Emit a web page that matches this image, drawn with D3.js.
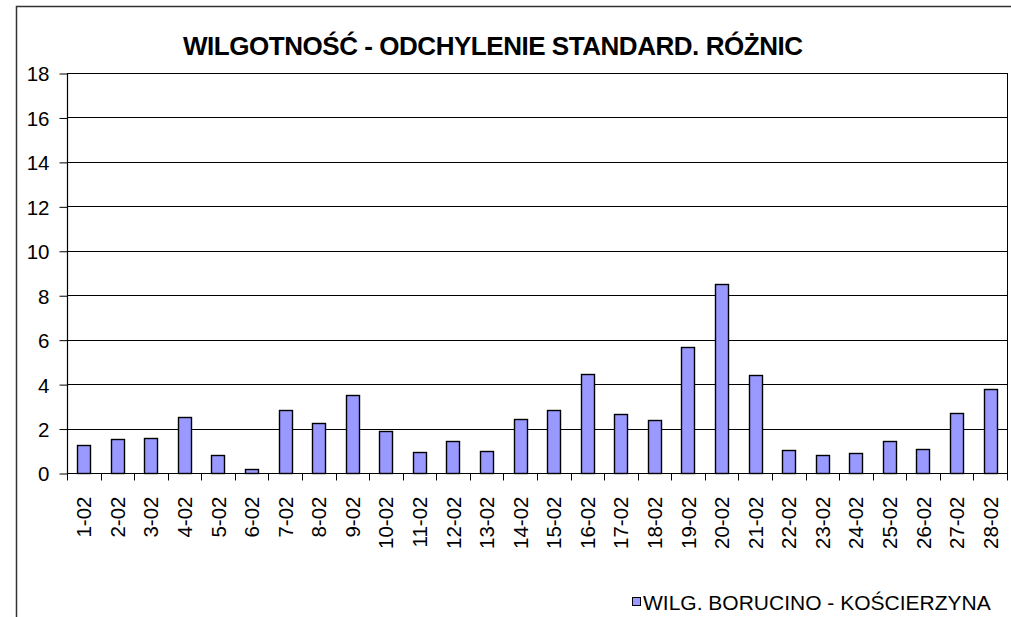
<!DOCTYPE html>
<html>
<head>
<meta charset="utf-8">
<script src="https://cdn.jsdelivr.net/npm/d3@7"></script>
<style>
  body { margin: 0; background: #fff; }
  text { font-family: "Liberation Sans", Arial, sans-serif; fill: #000; }
</style>
</head>
<body>
<script>
// categories (days of February) and standard deviation of differences
var days = ["1-02","2-02","3-02","4-02","5-02","6-02","7-02","8-02","9-02","10-02",
            "11-02","12-02","13-02","14-02","15-02","16-02","17-02","18-02","19-02","20-02",
            "21-02","22-02","23-02","24-02","25-02","26-02","27-02","28-02"];
var values = [1.25, 1.52, 1.56, 2.5, 0.81, 0.18, 2.84, 2.27, 3.52, 1.87,
              0.93, 1.44, 0.99, 2.44, 2.82, 4.47, 2.64, 2.39, 5.67, 8.52,
              4.40, 1.03, 0.83, 0.89, 1.42, 1.10, 2.69, 3.76];
var yTicks = [0, 2, 4, 6, 8, 10, 12, 14, 16, 18];
var title = "WILGOTNOŚĆ - ODCHYLENIE STANDARD. RÓŻNIC";
var seriesName = "WILG. BORUCINO - KOŚCIERZYNA";

var width = 1011, height = 617;
var plot = { left: 67, top: 73, right: 1007, bottom: 473 };
var labelSize = "20.5px";

var svg = d3.select("body").append("svg")
    .attr("width", width)
    .attr("height", height);

// outer chart border (cut off at right and bottom)
svg.append("rect")
    .attr("x", 16.5).attr("y", 6.5)
    .attr("width", 1100).attr("height", 700)
    .attr("fill", "none")
    .attr("stroke", "#333")
    .attr("stroke-width", 1.5);

var x = d3.scaleBand()
    .domain(days)
    .range([plot.left, plot.right])
    .paddingInner(0.6)
    .paddingOuter(0.3);

var y = d3.scaleLinear()
    .domain([0, 18])
    .range([plot.bottom, plot.top]);

// gridlines
svg.append("g")
    .selectAll("line")
    .data(yTicks.filter(d => d > 0))
    .enter()
    .append("line")
    .attr("x1", plot.left)
    .attr("x2", plot.right)
    .attr("y1", d => Math.round(y(d)) + 0.5)
    .attr("y2", d => Math.round(y(d)) + 0.5)
    .attr("stroke", "#000")
    .attr("stroke-width", 1.2);

// right border of plot area
svg.append("line")
    .attr("x1", plot.right + 0.5).attr("x2", plot.right + 0.5)
    .attr("y1", plot.top).attr("y2", plot.bottom)
    .attr("stroke", "#000");

// bars
svg.append("g")
    .selectAll("rect")
    .data(values)
    .enter()
    .append("rect")
    .attr("x", (d, i) => Math.round(x(days[i])) + 0.5)
    .attr("y", d => Math.round(y(d)) + 0.5)
    .attr("width", Math.round(x.bandwidth()))
    .attr("height", d => Math.round(y(0)) - Math.round(y(d)))
    .attr("fill", "#9999FF")
    .attr("stroke", "#000")
    .attr("stroke-width", 1.4);

// y axis
var yAxis = svg.append("g")
    .attr("transform", "translate(" + (plot.left + 0.5) + ",0.5)")
    .call(d3.axisLeft(y).tickValues(yTicks).tickSize(8).tickPadding(10));
yAxis.select(".domain").attr("d", "M0," + plot.top + "V" + plot.bottom).attr("stroke-width", 1.2);
yAxis.selectAll("text")
    .attr("dy", "0.36em")
    .style("font-family", "'Liberation Sans', Arial, sans-serif")
    .style("font-size", labelSize);

// x axis: ticks on category boundaries
var xg = svg.append("g")
    .attr("transform", "translate(0," + (Math.round(y(0)) + 0.5) + ")");
xg.append("line")
    .attr("x1", plot.left).attr("x2", plot.right + 1)
    .attr("stroke", "#000")
    .attr("stroke-width", 1.2);
var bounds = d3.range(days.length + 1).map(i => plot.left + i * (plot.right - plot.left) / days.length);
xg.selectAll(".tick")
    .data(bounds)
    .enter()
    .append("line")
    .attr("x1", d => Math.round(d) + 0.5)
    .attr("x2", d => Math.round(d) + 0.5)
    .attr("y1", 0).attr("y2", 7)
    .attr("stroke", "#000");

xg.selectAll(".lbl")
    .data(days)
    .enter()
    .append("text")
    .attr("transform", d => "translate(" + (x(d) + x.bandwidth() / 2 + 7.5) + ",23) rotate(-90)")
    .attr("text-anchor", "end")
    .style("font-size", labelSize)
    .text(d => d);

// title
svg.append("text")
    .attr("x", 493)
    .attr("y", 55)
    .attr("text-anchor", "middle")
    .style("font-size", "26px")
    .style("font-weight", "bold")
    .attr("textLength", 620)
    .attr("lengthAdjust", "spacing")
    .text(title);

// legend
var lg = svg.append("g").attr("transform", "translate(632,597)");
lg.append("rect")
    .attr("x", 0.5).attr("y", 0.5)
    .attr("width", 8).attr("height", 8)
    .attr("fill", "#9999FF")
    .attr("stroke", "#000");
lg.append("text")
    .attr("x", 11)
    .attr("y", 13)
    .style("font-size", "21px")
    .text(seriesName);
</script>
</body>
</html>
